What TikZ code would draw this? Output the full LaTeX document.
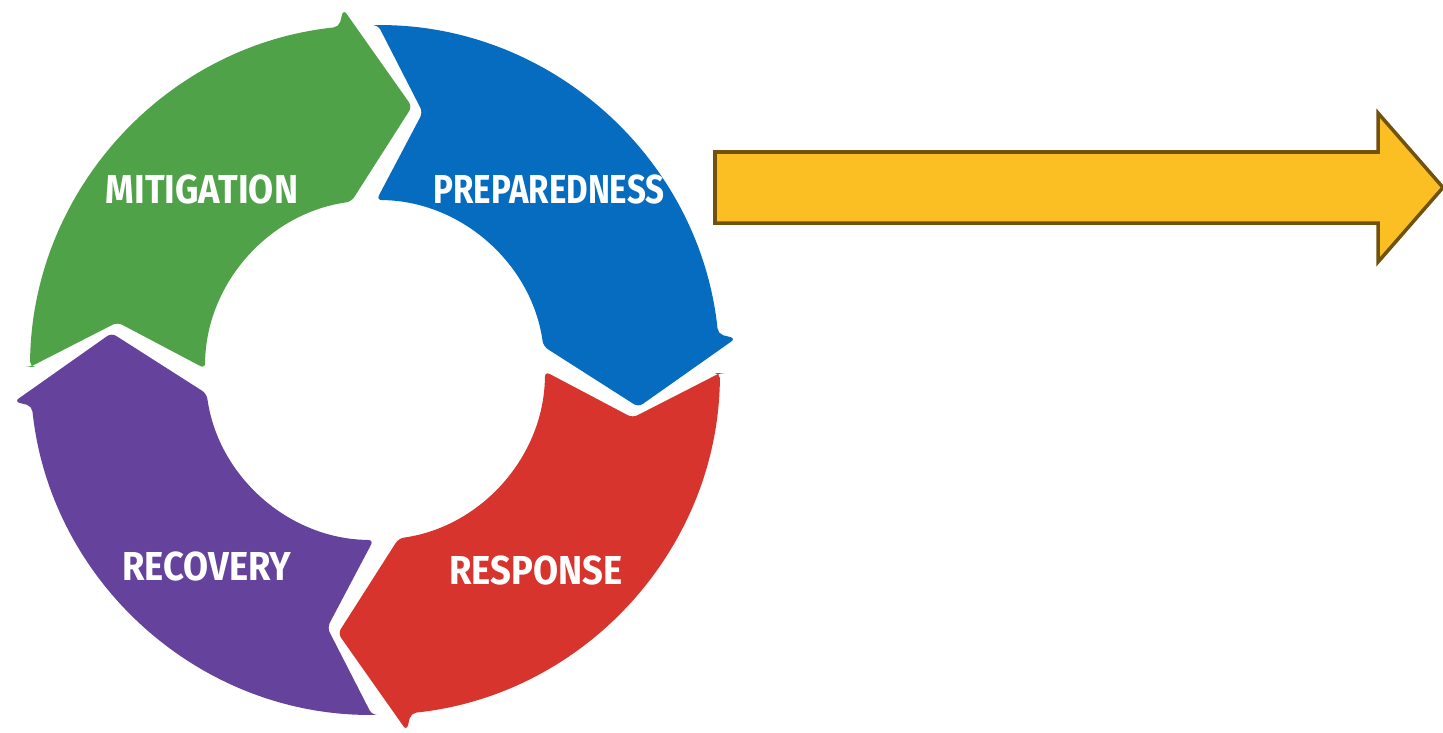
\documentclass[tikz,border=0pt]{standalone}
\usepackage{fontspec}
\newfontfamily\phasefont[FakeStretch=0.9]{Fira Sans}
\definecolor{mitgreen}{RGB}{80,162,72}
\definecolor{prepblue}{RGB}{6,108,192}
\definecolor{respred}{RGB}{214,52,44}
\definecolor{recpurple}{RGB}{101,67,156}
\definecolor{arrowfill}{RGB}{251,191,36}
\definecolor{arrowedge}{RGB}{112,82,12}
\begin{document}
\begin{tikzpicture}[x=1cm,y=1cm,
  phase/.style={text=white,inner sep=0pt,font=\phasefont\bfseries\fontsize{11.5}{12}\selectfont}]
  \useasboundingbox (0,0) rectangle (14.43,7.32);
  \coordinate (c) at (3.75,3.62);

  % the four phases, clockwise
  \foreach \a/\col in {180/mitgreen,90/prepblue,0/respred,270/recpurple}
    \fill[\col,shift={(c)},rounded corners=1.5pt] (\a-0.5:3.45) -- (\a-10.5:2.62) -- (\a-0.5:1.70)
      arc[start angle=\a-0.5,end angle=\a-82,radius=1.70] -- (\a-98:2.66) -- (\a-85:3.62)
      -- (\a-84:3.45) arc[start angle=\a-84,end angle=\a-0.5,radius=3.45] -- cycle;

  \node[phase] (mit)  at (2.02,5.43) {MITIGATION};
  \node[phase,transform shape,xscale=0.91] (prep) at (5.49,5.43) {PREPAREDNESS};
  \node[phase] (resp) at (5.36,1.62) {RESPONSE};
  \node[phase] (rec)  at (2.07,1.66) {RECOVERY};

  % big arrow
  \draw[arrowedge,fill=arrowfill,line width=1pt] (7.15,5.80) -- (13.78,5.80) -- (13.78,6.19)
    -- (14.43,5.445) -- (13.78,4.70) -- (13.78,5.09) -- (7.15,5.09) -- cycle;
\end{tikzpicture}
\end{document}
